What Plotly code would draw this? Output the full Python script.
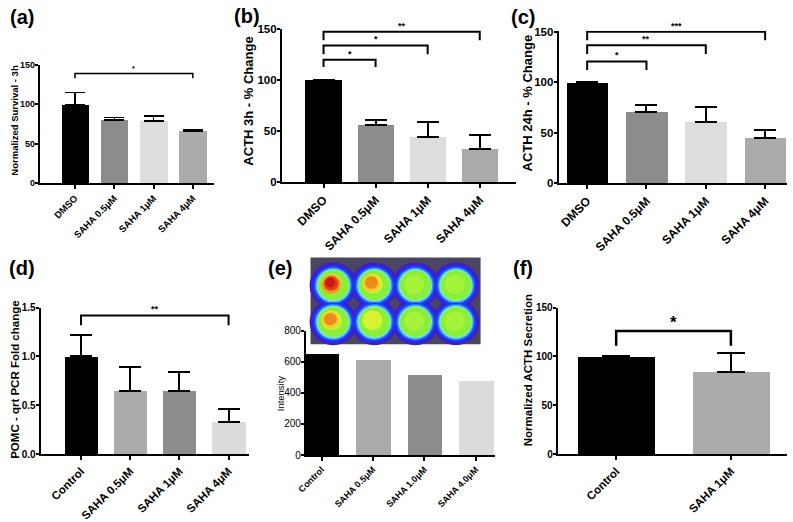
import plotly.graph_objects as go

W, H = 793, 522
FONT = "Liberation Sans, Arial, sans-serif"

# ---------------- data ----------------
cats_a = ["DMSO", "SAHA 0.5μM", "SAHA 1μM", "SAHA 4μM"]
vals_a = [100, 80, 79, 66]
errs_a = [15, 3, 6, 2]

cats_b = ["DMSO", "SAHA 0.5μM", "SAHA 1μM", "SAHA 4μM"]
vals_b = [100, 56, 44, 33]
errs_b = [0, 5, 15, 13]

cats_c = ["DMSO", "SAHA 0.5μM", "SAHA 1μM", "SAHA 4μM"]
vals_c = [100, 71, 61, 45]
errs_c = [0, 6, 14, 8]

cats_d = ["Control", "SAHA 0.5μM", "SAHA 1μM", "SAHA 4μM"]
vals_d = [1.0, 0.65, 0.65, 0.33]
errs_d = [0.22, 0.24, 0.19, 0.13]

cats_e = ["Control", "SAHA 0.5μM", "SAHA 1.0μM", "SAHA 4.0μM"]
vals_e = [655, 612, 520, 478]

cats_f = ["Control", "SAHA 1μM"]
vals_f = [100, 84]
errs_f = [0, 20]

# significance brackets: (from index, to index, label)
sig_a = [(0, 3, "*")]
sig_b = [(0, 1, "*"), (0, 2, "*"), (0, 3, "**")]
sig_c = [(0, 1, "*"), (0, 2, "**"), (0, 3, "***")]
sig_d = [(0, 3, "**")]
sig_f = [(0, 1, "*")]
# bracket heights (top, foot) in data units
sig_y_a = [(139, 133)]
sig_y_b = [(120, 113), (134, 125.5), (147.5, 139)]
sig_y_c = [(120.5, 112), (136.5, 128), (150, 141.5)]
sig_y_d = [(1.42, 1.32)]
sig_y_f = [(126, 111)]

# luminescence plate hot-spot level per well (row, column)
well_levels = [[3, 2, 0, 0], [2, 1, 0, 0]]

# ---------------- styles ----------------
col_abc = ["#000000", "#8c8c8c", "#dddddd", "#ababab"]
col_de = ["#000000", "#ababab", "#8c8c8c", "#dcdcdc"]
col_f = ["#000000", "#ababab"]


def px(x):
    return x / W


def py(y):
    return 1 - y / H


panels = [
    dict(n="", cats=cats_a, vals=vals_a, errs=errs_a, cols=col_abc, box=(31, 207, 61, 184),
         xr=[-0.9, 3.53], yr=[0, 150], yt=[0, 50, 100, 150], xfs=9.5, yfs=9, xbold=True, ybold=True,
         bw=0.7, lw=1.5, sig=sig_a, sigy=sig_y_a, ss=7, ew=10, tf=None),
    dict(n="2", cats=cats_b, vals=vals_b, errs=errs_b, cols=col_abc, box=(276, 513, 24, 183),
         xr=[-0.8, 3.7], yr=[0, 150], yt=[0, 50, 100, 150], xfs=12, yfs=11.5, xbold=True, ybold=True,
         bw=0.7, lw=2, sig=sig_b, sigy=sig_y_b, ss=9, ew=11, tf=None),
    dict(n="3", cats=cats_c, vals=vals_c, errs=errs_c, cols=col_abc, box=(556, 787, 25.6, 184),
         xr=[-0.48, 3.37], yr=[0, 151], yt=[0, 50, 100, 150], xfs=12, yfs=11.5, xbold=True, ybold=True,
         bw=0.7, lw=2, sig=sig_c, sigy=sig_y_c, ss=9, ew=11, tf=None),
    dict(n="4", cats=cats_d, vals=vals_d, errs=errs_d, cols=col_de, box=(32, 243, 313, 465),
         xr=[-0.82, 3.42], yr=[0, 1.5], yt=[0, 0.5, 1.0, 1.5], xfs=11.5, yfs=10, xbold=True, ybold=True,
         bw=0.68, lw=2, sig=sig_d, sigy=sig_y_d, ss=9, ew=11, tf=".1f"),
    dict(n="5", cats=cats_e, vals=vals_e, errs=None, cols=col_de, box=(300, 492, 337, 466),
         xr=[-0.31, 3.38], yr=[0, 800], yt=[0, 200, 400, 600, 800], xfs=9, yfs=10, xbold=True, ybold=False,
         bw=0.67, lw=1.5, sig=[], sigy=[], ss=9, ew=0, tf=None),
    dict(n="6", cats=cats_f, vals=vals_f, errs=errs_f, cols=col_f, box=(555, 787, 313, 465),
         xr=[-0.51, 1.49], yr=[0, 150], yt=[0, 50, 100, 150], xfs=11.5, yfs=10, xbold=True, ybold=True,
         bw=0.67, lw=2, sig=sig_f, sigy=sig_y_f, ss=17, ew=14, tf=None),
]

fig = go.Figure()
layout = dict(width=W, height=H, margin=dict(l=0, r=0, t=0, b=0), autosize=False,
              paper_bgcolor="white", plot_bgcolor="rgba(0,0,0,0)", showlegend=False,
              font=dict(family=FONT, color="black"), bargap=0)
shapes = []
annotations = []

for p in panels:
    n = p["n"]
    xa = "x" + n
    ya = "y" + n
    L, R, T, B = p["box"]
    err = None
    if p["errs"] is not None:
        err = dict(type="data", array=p["errs"], arrayminus=[0] * len(p["errs"]),
                   symmetric=False, color="black", thickness=p["lw"], width=p["ew"])
    fig.add_trace(go.Bar(
        x=list(range(len(p["cats"]))), y=p["vals"], width=p["bw"],
        marker=dict(color=p["cols"], line=dict(width=0)),
        error_y=err, xaxis=xa, yaxis=ya, hoverinfo="skip"))
    layout["xaxis" + n] = dict(
        domain=[px(L), px(R)], range=p["xr"], anchor=ya, tickmode="array",
        tickvals=list(range(len(p["cats"]))), ticktext=p["cats"], tickangle=-45,
        showline=True, linecolor="black", linewidth=p["lw"], ticks="outside",
        ticklen=4, tickwidth=p["lw"], tickcolor="black", showgrid=False, zeroline=False,
        tickfont=dict(family=FONT, size=p["xfs"], color="black",
                      weight="bold" if p["xbold"] else "normal"),
        fixedrange=True)
    ydict = dict(
        domain=[py(B), py(T)], range=p["yr"], anchor=xa, tickmode="array",
        tickvals=p["yt"], showline=True, linecolor="black", linewidth=p["lw"],
        ticks="outside", ticklen=3, tickwidth=p["lw"], tickcolor="black",
        showgrid=False, zeroline=False, ticklabelstandoff=-2,
        tickfont=dict(family=FONT, size=p["yfs"], color="black",
                      weight="bold" if p["ybold"] else "normal"),
        fixedrange=True)
    if p["tf"]:
        ydict["tickformat"] = p["tf"]
    layout["yaxis" + n] = ydict
    for (i0, i1, lab), (ytop, yfoot) in zip(p["sig"], p["sigy"]):
        shapes.append(dict(type="path", xref=xa, yref=ya,
                           path=f"M {i0},{yfoot} L {i0},{ytop} L {i1},{ytop} L {i1},{yfoot}",
                           line=dict(color="black", width=p["lw"] + (0.5 if n == "6" else 0))))
        annotations.append(dict(x=(i0 + i1) / 2, y=ytop, xref=xa, yref=ya, text=lab,
                                showarrow=False, yanchor="bottom", yshift=-1 if p["ss"] < 12 else -3,
                                font=dict(family=FONT, size=p["ss"], color="black", weight="bold")))

# axis titles (rotated) and panel letters
titles = [
    ("Normalized Survival - 3h", 6, 118, 9.5, "bold"),
    ("ACTH 3h - % Change", 242, 99, 13, "bold"),
    ("ACTH 24h - % Change", 524, 101, 13, "bold"),
    ("POMC - qrt PCR Fold change", 6, 388, 11.5, "bold"),
    ("Intensity", 274, 402, 9.5, "normal"),
    ("Normalized ACTH Secretion", 525, 378, 11.5, "bold"),
]
for t, x, y, s, w in titles:
    annotations.append(dict(x=px(x), y=py(y), xref="paper", yref="paper", text=t,
                            textangle=-90, showarrow=False, xanchor="center", yanchor="middle",
                            font=dict(family=FONT, size=s, color="black", weight=w)))
letters = [("(a)", 13, 11), ("(b)", 241, 10), ("(c)", 520, 11),
           ("(d)", 13, 272), ("(e)", 274, 272), ("(f)", 520, 272)]
for t, x, y in letters:
    annotations.append(dict(x=px(x), y=py(y), xref="paper", yref="paper", text=t,
                            showarrow=False, xanchor="center", yanchor="middle",
                            font=dict(family=FONT, size=20, color="black", weight="bold")))


# luminescence plate picture (decoration)
def circ(cx, cy, r, color):
    return dict(type="circle", xref="paper", yref="paper", layer="above",
                x0=px(cx - r), x1=px(cx + r), y0=py(cy + r), y1=py(cy - r),
                fillcolor=color, line=dict(width=0))


shapes.append(dict(type="rect", xref="paper", yref="paper", layer="above",
                   x0=px(305), x1=px(477), y0=py(351), y1=py(261),
                   fillcolor="#4b4660", line=dict(width=0)))
wx = [328, 369.5, 411, 452]
wy = [290, 328]
for r_i, cy in enumerate(wy):
    for c_i, cx in enumerate(wx):
        shapes.append(circ(cx, cy, 24, "#3a22c8"))
for r_i, cy in enumerate(wy):
    for c_i, cx in enumerate(wx):
        shapes.append(circ(cx, cy, 20.5, "#1f3cff"))
        shapes.append(circ(cx, cy, 18.5, "#2a9cff"))
        shapes.append(circ(cx, cy, 17, "#7ee6c8"))
        shapes.append(circ(cx, cy, 15.5, "#8aef3a"))
        shapes.append(circ(cx - 1, cy - 1, 10, "#a6f43a"))
        lvl = well_levels[r_i][c_i]
        if lvl >= 1:
            shapes.append(circ(cx - 2, cy - 2, 10, "#d8f232"))
        if lvl >= 2:
            shapes.append(circ(cx - 3, cy - 2, 9, "#f2d22a"))
            shapes.append(circ(cx - 3, cy - 3, 6.5, "#ec8a1e"))
        if lvl >= 3:
            shapes.append(circ(cx - 2, cy - 1, 10, "#f0a020"))
            shapes.append(circ(cx - 2, cy - 2, 7.5, "#e0401a"))
            shapes.append(circ(cx - 3, cy - 3, 5, "#c81a0e"))

layout["shapes"] = shapes
layout["annotations"] = annotations
fig.update_layout(**layout)

post = ("document.documentElement.style.margin='0px';"
        "document.body.style.margin='0px';document.body.style.padding='0px';"
        "document.body.style.overflow='hidden';"
        "var d=document.getElementById('{plot_id}');"
        "d.style.position='absolute';d.style.left='0px';d.style.top='0px';")
fig.write_html("out.html", include_plotlyjs=True, config={"displayModeBar": False},
               post_script=post)
